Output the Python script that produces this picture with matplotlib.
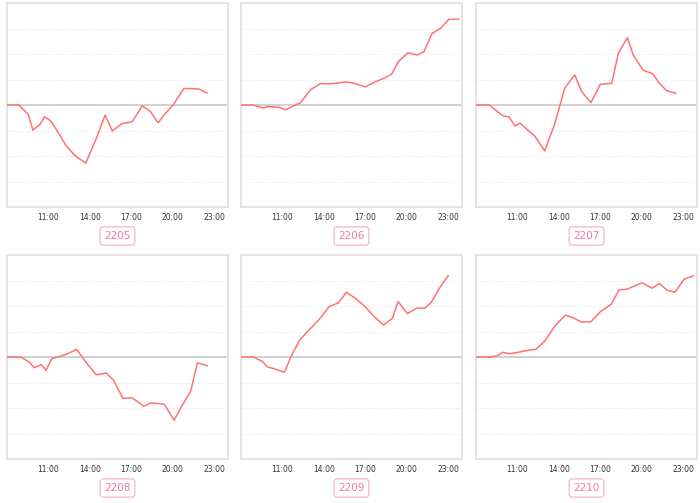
import matplotlib
matplotlib.use('Agg')
from matplotlib import pyplot as plt

# contract codes
codes = ['2205', '2206', '2207', '2208', '2209', '2210']

# time of each point (hours) and value
t2205 = [8.0, 8.85, 9.52, 9.88, 10.37, 10.73, 11.14, 11.7, 12.23, 12.9, 13.7, 14.43,
         15.1, 15.63, 16.33, 17.06, 17.8, 18.39, 18.94, 19.43, 20.03, 20.8, 21.86, 22.49]
v2205 = [0, 0, -0.35, -0.99, -0.77, -0.46, -0.61, -1.07, -1.55, -1.98, -2.28, -1.36,
         -0.40, -1.02, -0.73, -0.66, -0.03, -0.26, -0.70, -0.35, 0.0, 0.65, 0.63, 0.47]

t2206 = [8.0, 8.89, 9.61, 9.97, 10.76, 11.24, 11.77, 12.29, 13.04, 13.76, 14.41, 15.0, 15.6,
         16.28, 17.0, 17.76, 18.36, 18.91, 19.39, 20.09, 20.76, 21.24, 21.84, 22.44, 23.04, 23.76]
v2206 = [0, 0, -0.12, -0.06, -0.09, -0.19, -0.04, 0.08, 0.60, 0.84, 0.83, 0.86, 0.91,
         0.84, 0.71, 0.92, 1.05, 1.21, 1.70, 2.05, 1.96, 2.09, 2.81, 3.00, 3.36, 3.36]

t2207 = [8.0, 8.96, 9.92, 10.4, 10.81, 11.19, 11.72, 12.27, 12.97, 13.69, 14.43, 15.15,
         15.63, 16.32, 17.0, 17.83, 18.31, 18.96, 19.39, 20.11, 20.78, 21.31, 21.79, 22.46]
v2207 = [0, 0, -0.42, -0.47, -0.82, -0.71, -0.97, -1.23, -1.80, -0.76, 0.67, 1.18,
         0.54, 0.09, 0.81, 0.85, 2.04, 2.64, 1.95, 1.36, 1.23, 0.84, 0.56, 0.46]

t2208 = [8.0, 9.01, 9.63, 9.97, 10.47, 10.83, 11.24, 11.84, 12.37, 13.04, 13.75, 14.47,
         15.19, 15.74, 16.39, 17.06, 17.9, 18.43, 19.38, 20.1, 20.7, 21.3, 21.78, 22.5]
v2208 = [0, 0, -0.21, -0.42, -0.30, -0.52, -0.07, 0.03, 0.12, 0.30, -0.23, -0.70,
         -0.63, -0.93, -1.62, -1.60, -1.93, -1.80, -1.85, -2.48, -1.88, -1.34, -0.23, -0.34]

t2209 = [8.0, 8.91, 9.56, 9.92, 10.47, 11.14, 11.67, 12.27, 13.0, 13.64, 14.37, 15.04, 15.64,
         16.29, 16.96, 17.63, 18.33, 18.96, 19.37, 20.04, 20.74, 21.29, 21.77, 22.44, 23.0]
v2209 = [0, 0, -0.18, -0.39, -0.47, -0.60, 0.08, 0.68, 1.10, 1.46, 1.97, 2.12, 2.54,
         2.30, 1.99, 1.59, 1.25, 1.52, 2.17, 1.70, 1.92, 1.91, 2.14, 2.76, 3.19]

t2210 = [8.0, 9.01, 9.56, 9.92, 10.45, 11.0, 11.77, 12.36, 12.96, 13.73, 14.47, 15.07, 15.64,
         16.31, 17.03, 17.8, 18.35, 18.94, 20.02, 20.74, 21.29, 21.82, 22.41, 23.06, 23.73]
v2210 = [0, 0, 0.05, 0.18, 0.13, 0.18, 0.26, 0.31, 0.61, 1.23, 1.64, 1.53, 1.37,
         1.38, 1.79, 2.07, 2.63, 2.66, 2.91, 2.70, 2.88, 2.62, 2.54, 3.05, 3.18]

times = [t2205, t2206, t2207, t2208, t2209, t2210]
values = [v2205, v2206, v2207, v2208, v2209, v2210]

tick_hours = [11, 14, 17, 20, 23]
tick_labels = ['11:00', '14:00', '17:00', '20:00', '23:00']

W, H = 700, 503
fig = plt.figure(figsize=(W / 100, H / 100), dpi=100)

# panel boxes in pixels: (left, right, top, bottom)
cols = [(7, 228), (241, 462), (476, 697)]
rows = [(3, 207), (255, 459)]
label_y = [236, 488]

for i, code in enumerate(codes):
    r, c = divmod(i, 3)
    x0, x1 = cols[c]
    y0, y1 = rows[r]
    ax = fig.add_axes([x0 / W, 1 - y1 / H, (x1 - x0) / W, (y1 - y0) / H])
    ax.set_xlim(8, 24)
    ax.set_ylim(-4, 4)
    for g in [-3, -2, -1, 1, 2, 3]:
        ax.axhline(g, color='#f0f0f0', lw=0.7, ls=(0, (3, 2)), zorder=1)
    ax.axhline(0, color='#c4c4c4', lw=1.1, zorder=2)
    ax.plot(times[i], values[i], color='#ff7272', lw=1.1, zorder=3)
    ax.set_xticks(tick_hours)
    ax.set_xticklabels(tick_labels, fontsize=5.5, color='#333333')
    ax.set_yticks([])
    ax.tick_params(axis='x', length=0, pad=4)
    for s in ax.spines.values():
        s.set_color('#e2e2e2')
        s.set_linewidth(1.3)

    fig.text((x0 + x1) / 2 / W, 1 - label_y[r] / H, code, fontsize=7.5, color='#f27aa0',
             ha='center', va='center',
             bbox=dict(boxstyle='round,pad=0.4,rounding_size=0.3', fc='white',
                       ec='#f7bccd', lw=1))

fig.savefig('out.png', dpi=100)
